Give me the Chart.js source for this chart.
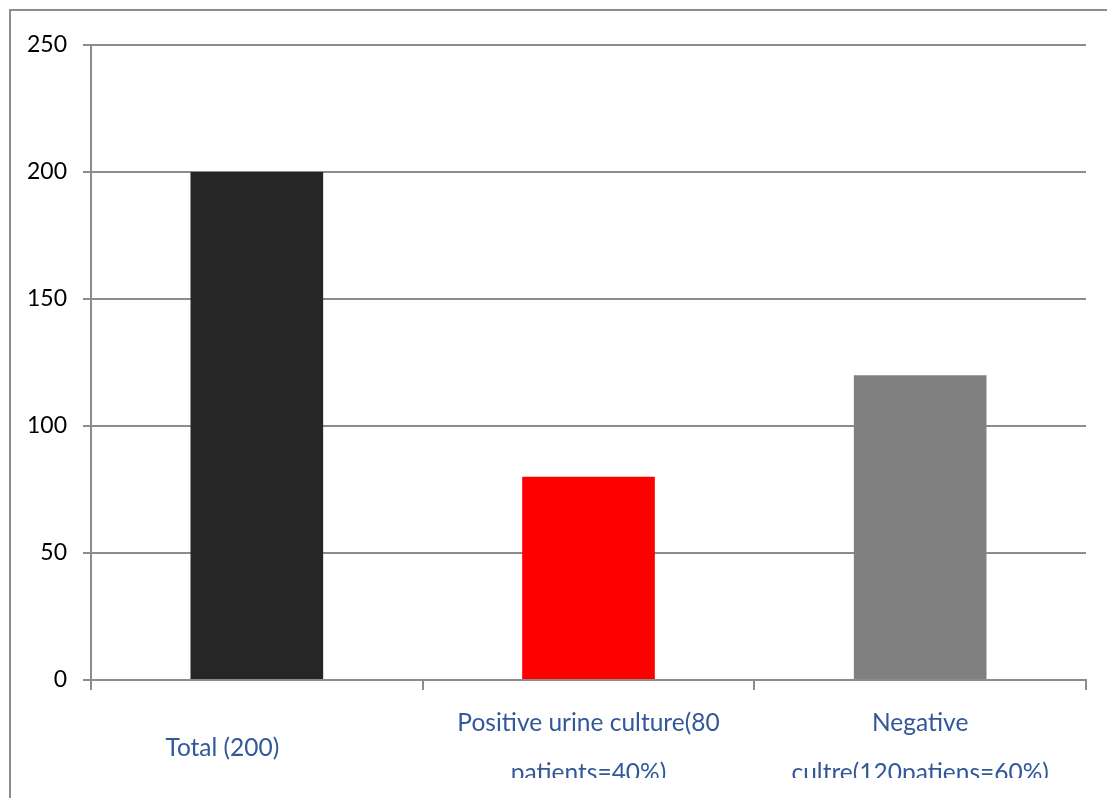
<!DOCTYPE html>
<html>
<head>
<meta charset="utf-8">
<script src="https://cdn.jsdelivr.net/npm/chart.js@4"></script>
<style>
  html, body { margin: 0; padding: 0; background: #fff; overflow: hidden; }
  #frame { position: absolute; left: 9px; top: 9px; width: 1200px; height: 900px;
           border-left: 2px solid #8c8c8c; border-top: 2px solid #8c8c8c; }
  #wrap { position: absolute; left: 0; top: 0; width: 1107px; height: 778px; }
</style>
</head>
<body>
<div id="frame"></div>
<div id="wrap"><canvas id="barChart" width="1107" height="778"></canvas></div>
<script>
// the first label carries trailing blanks, as in the source sheet, which pushes it left
var categories = [
  ["Total (200)           "],
  ["Positive urine culture(80", "patients=40%)"],
  ["Negative", "cultre(120patiens=60%)"]
];
var values = [200, 80, 120];
var barColors = ["#262626", "#ff0000", "#808080"];
var yTicks = [0, 50, 100, 150, 200, 250];

var gridGray = "#8c8c8c";

var make_chart = function make_chart(id) {
  var ctx = document.getElementById(id);
  return new Chart(ctx, {
    type: "bar",
    data: {
      labels: categories,
      datasets: [{
        data: values,
        backgroundColor: barColors,
        borderWidth: 0,
        barPercentage: 0.4,
        categoryPercentage: 1
      }]
    },
    options: {
      responsive: false,
      animation: false,
      layout: { padding: { top: 45, right: 21, left: 0, bottom: 0 } },
      plugins: { legend: { display: false }, tooltip: { enabled: false } },
      scales: {
        x: {
          grid: { offset: true, drawOnChartArea: false, drawTicks: true, tickLength: 10, color: gridGray, lineWidth: 2 },
          border: { color: gridGray, width: 2 },
          ticks: {
            color: "#33589a",
            font: { family: "Lato", size: 24.5, lineHeight: 2.04 },
            padding: 33,
            crossAlign: "center",
            maxRotation: 0,
            autoSkip: false
          },
          afterFit: function (scale) { scale.height = 98; }
        },
        y: {
          min: 0,
          max: 250,
          afterBuildTicks: function (scale) {
            scale.ticks = yTicks.map(function (v) { return { value: v }; });
          },
          grid: { color: gridGray, lineWidth: 2, tickLength: 8 },
          border: { color: gridGray, width: 2 },
          ticks: {
            color: "#000",
            font: { family: "Lato", size: 23 },
            padding: 16
          },
          afterFit: function (scale) { scale.width = 91; }
        }
      }
    }
  });
};

make_chart("barChart");
</script>
</body>
</html>
